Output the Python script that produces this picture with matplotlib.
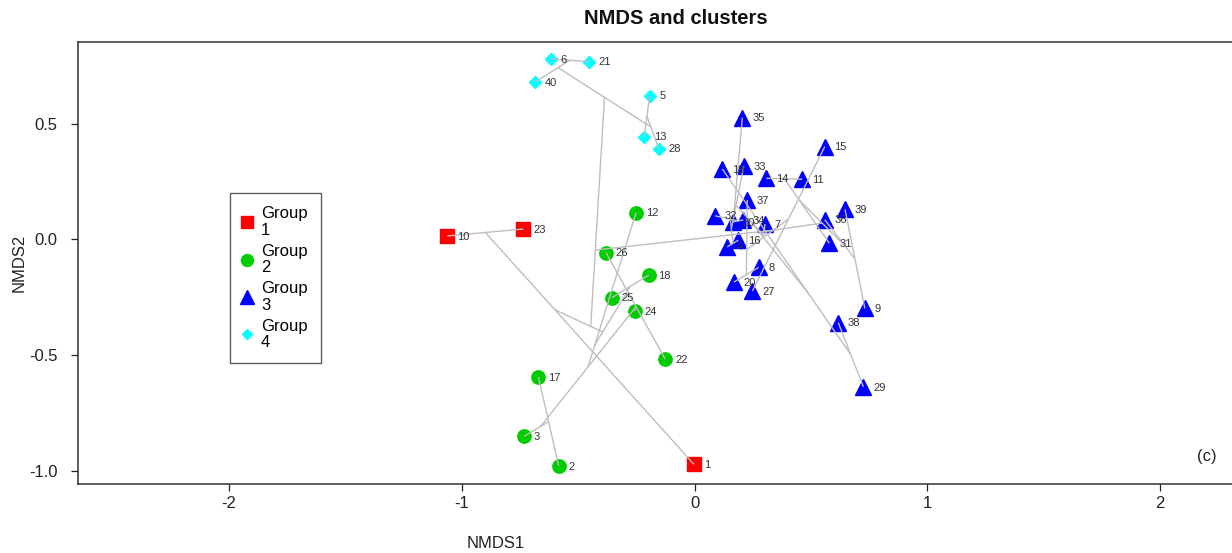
import matplotlib
matplotlib.use("Agg")
import matplotlib.pyplot as plt
import numpy as np
from matplotlib.collections import LineCollection
from matplotlib.lines import Line2D

plt.rcParams["font.family"] = ["Liberation Sans", "DejaVu Sans"]
plt.rcParams["axes.unicode_minus"] = False

# NMDS scores (sample id, NMDS1, NMDS2, group)
sample_id = [10, 23, 1,
             12, 26, 18, 25, 24, 22, 17, 3, 2,
             35, 15, 19, 33, 14, 11, 37, 39, 36, 32, 30, 34, 7, 16, 31, 4,
             8, 20, 27, 9, 38, 29,
             6, 21, 40, 5, 13, 28]
nmds1 = [-1.062, -0.736, -0.003,
         -0.252, -0.381, -0.197, -0.356, -0.257, -0.126, -0.671, -0.732, -0.584,
         0.205, 0.559, 0.119, 0.211, 0.308, 0.463, 0.226, 0.646, 0.559, 0.088,
         0.164, 0.209, 0.302, 0.188, 0.579, 0.140,
         0.275, 0.169, 0.248, 0.731, 0.617, 0.725,
         -0.618, -0.455, -0.687, -0.193, -0.217, -0.154]
nmds2 = [0.015, 0.045, -0.972,
         0.115, -0.057, -0.154, -0.252, -0.309, -0.518, -0.595, -0.851, -0.979,
         0.526, 0.401, 0.304, 0.317, 0.264, 0.260, 0.170, 0.130, 0.085, 0.102,
         0.076, 0.084, 0.067, -0.003, -0.017, -0.032,
         -0.121, -0.184, -0.223, -0.298, -0.360, -0.637,
         0.780, 0.768, 0.679, 0.621, 0.444, 0.392]
group = [1, 1, 1,
         2, 2, 2, 2, 2, 2, 2, 2, 2,
         3, 3, 3, 3, 3, 3, 3, 3, 3, 3, 3, 3, 3, 3, 3, 3,
         3, 3, 3, 3, 3, 3,
         4, 4, 4, 4, 4, 4]

# cluster tree, hclust style: negative = sample id, positive = earlier merge step
merges = [(-10, -23), (-1, 1),
          (-17, -2), (-3, 3), (-26, -22), (-24, 5), (6, 4), (-12, 7),
          (-18, -25), (9, 8),
          (-6, -21), (-40, 11), (-5, -13), (-28, 13), (12, 14),
          (-30, -34), (-16, -4), (-32, 16), (18, 17), (-33, 19), (-35, 20),
          (-8, -20), (-37, 22), (-15, -27), (23, 24), (-7, 25), (21, 26),
          (-38, -29), (-19, 28), (27, 29),
          (-14, -11), (-31, 31), (-39, -9), (-36, 33), (32, 34), (30, 35),
          (2, 10), (15, 37), (38, 36)]

group_names = ["Group\n1", "Group\n2", "Group\n3", "Group\n4"]
group_colors = ["#FF0000", "#00CD00", "#0000FF", "#00FFFF"]
group_markers = ["s", "o", "^", "D"]
group_msize = [10, 9.6, 11.5, 6.2]

fig = plt.figure(figsize=(12.32, 5.53), dpi=100)
ax = fig.add_axes([78 / 1232, 69 / 553, 1233.3 / 1232, 442 / 553])

# ordicluster style segments: each child centroid -> merged centroid
pos = {s: np.array([x, y]) for s, x, y in zip(sample_id, nmds1, nmds2)}
cent, size, segs = [], [], []
for a, b in merges:
    nodes = []
    for k in (a, b):
        nodes.append((pos[-k], 1) if k < 0 else (cent[k - 1], size[k - 1]))
    n = nodes[0][1] + nodes[1][1]
    c = (nodes[0][0] * nodes[0][1] + nodes[1][0] * nodes[1][1]) / n
    for p, _ in nodes:
        segs.append([p, c])
    cent.append(c)
    size.append(n)
ax.add_collection(LineCollection(segs, colors="#BEBEBE", linewidths=1.0, zorder=3))

x = np.array(nmds1)
y = np.array(nmds2)
g = np.array(group)
for i in range(4):
    m = g == i + 1
    ax.plot(x[m], y[m], ls="none", marker=group_markers[i], ms=group_msize[i],
            color=group_colors[i], mec=group_colors[i], zorder=2)

for s, xi, yi in zip(sample_id, nmds1, nmds2):
    ax.annotate(str(s), (xi, yi), xytext=(7, -0.5), textcoords="offset points",
                ha="left", va="center", fontsize=8, color="#333333", zorder=4)

ax.text(2.2, -0.94, "(c)", ha="center", va="center", fontsize=12, color="#222222")

ax.set_xlim(-2.649, 2.649)
ax.set_ylim(-1.057, 0.853)
ax.set_xticks([-2, -1, 0, 1, 2])
ax.set_xticklabels(["-2", "-1", "0", "1", "2"])
ax.set_yticks([0.5, 0.0, -0.5, -1.0])
ax.set_yticklabels(["0.5", "0.0", "-0.5", "-1.0"])
ax.tick_params(axis="both", direction="out", length=5, width=0.9, colors="#222222",
               labelsize=12)
ax.tick_params(axis="x", pad=4)
ax.tick_params(axis="y", pad=9.5)
for sp in ax.spines.values():
    sp.set_color("#333333")
    sp.set_linewidth(1.1)

ax.set_xlabel("NMDS1", fontsize=12, color="#222222")
ax.xaxis.set_label_coords((496 - 78) / 1233.3, -0.118)
ax.set_ylabel("NMDS2", fontsize=12, color="#222222")
ax.yaxis.set_label_coords(-0.042, 0.5)

fig.text(676 / 1232, 1 - 18 / 553, "NMDS and clusters", ha="center", va="center",
         fontsize=14.5, fontweight="bold", color="#111111")

handles = [Line2D([], [], ls="none", marker=group_markers[i], ms=group_msize[i] * 0.9,
                  color=group_colors[i]) for i in range(4)]
leg = fig.legend(handles, group_names, loc="upper left",
                 bbox_to_anchor=(230 / 1232, 1 - 193 / 553), borderaxespad=0,
                 fontsize=12, frameon=True, fancybox=False, edgecolor="#333333",
                 handlelength=0.4, handletextpad=0.65, borderpad=0.8, labelspacing=0.35)
leg.get_frame().set_linewidth(1.0)
for t in leg.get_texts():
    t.set_linespacing(1.13)

fig.savefig("out.png", dpi=100)
